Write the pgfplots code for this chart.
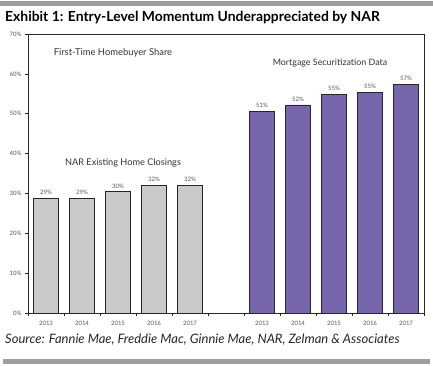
\documentclass[border=0pt]{standalone}
\usepackage{pgfplots}
\pgfplotsset{compat=1.18}
\usepackage{fontspec}
\setmainfont{Lato}
\definecolor{barpurple}{RGB}{120,102,172}
\definecolor{bargray}{RGB}{201,201,201}
\definecolor{bandgray}{RGB}{158,158,158}
\definecolor{lblgray}{RGB}{85,85,85}
\begin{document}
\begin{tikzpicture}
\useasboundingbox (0pt,0pt) rectangle (433pt,366pt);
\fill[bandgray] (0pt,360pt) rectangle (433pt,365pt);
\fill[bandgray] (3pt,2pt) rectangle (430pt,7pt);
\node[anchor=base west, inner sep=0pt, font=\bfseries\fontsize{13.9}{15}\selectfont] at (5pt,344.5pt) {Exhibit 1: Entry-Level Momentum Underappreciated by NAR};
\node[anchor=base west, inner sep=0pt, font=\itshape\fontsize{13}{14}\selectfont, text=black!85] at (5pt,22pt) {Source: Fannie Mae, Freddie Mac, Ginnie Mae, NAR, Zelman \& Associates};
\begin{axis}[
  at={(28pt,53pt)}, anchor=south west,
  scale only axis, width=396pt, height=279pt,
  xmin=-0.5, xmax=10.5, ymin=0, ymax=70,
  axis line style={black!85, line width=0.8pt},
  xtick={0,1,2,3,4,6,7,8,9,10},
  xticklabels={2013,2014,2015,2016,2017,2013,2014,2015,2016,2017},
  minor xtick={-0.5,0.5,...,10.5},
  ytick={0,10,...,70},
  yticklabel={\pgfmathprintnumber{\tick}\%},
  /pgf/number format/assume math mode=true,
  tick pos=left, tick align=outside,
  major x tick style={draw=none},
  major tick length=3pt, minor tick length=3pt,
  tick style={black!85, line width=0.6pt},
  tick label style={font=\fontsize{6}{7}\selectfont, text=lblgray},
  xticklabel style={yshift=-2pt},
  ybar, bar width=24.5pt,
  nodes near coords={\pgfmathprintnumber[fixed,precision=0]{\pgfplotspointmeta}\%},
  nodes near coords style={font=\fontsize{6}{7}\selectfont, text=lblgray},
  clip=false,
]
\addplot[bar shift=0pt, fill=bargray, draw=black!85, line width=0.8pt] coordinates {(0,28.8)(1,28.8)(2,30.4)(3,32.0)(4,32.0)};
\addplot[bar shift=0pt, fill=barpurple, draw=black!85, line width=0.8pt] coordinates {(6,50.6)(7,52.2)(8,54.9)(9,55.4)(10,57.3)};
\node[font=\fontsize{9.4}{10}\selectfont, text=black!80] at (axis cs:1.86,65.2) {First-Time Homebuyer Share};
\node[font=\fontsize{9.2}{10}\selectfont, text=black!80] at (axis cs:2.14,37.6) {NAR Existing Home Closings};
\node[font=\fontsize{8.9}{10}\selectfont, text=black!80] at (axis cs:7.89,62.8) {Mortgage Securitization Data};
\end{axis}
\end{tikzpicture}
\end{document}
